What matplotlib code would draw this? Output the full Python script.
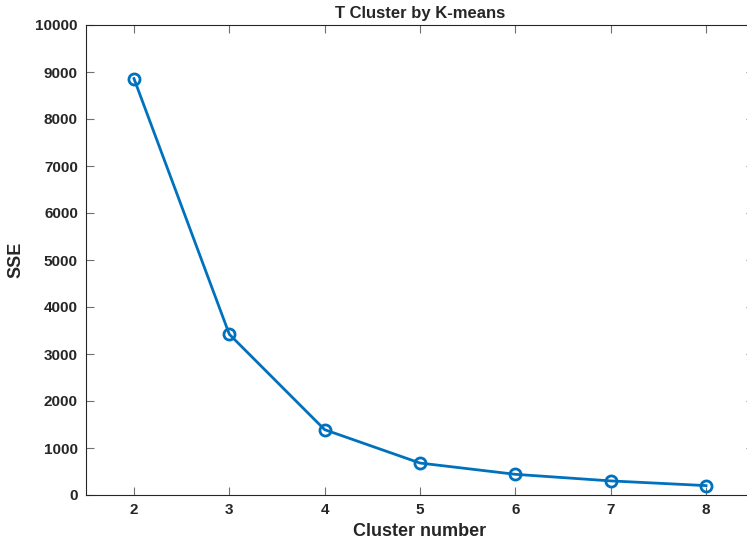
import matplotlib
matplotlib.use("Agg")
import matplotlib.pyplot as plt

clusters = [2, 3, 4, 5, 6, 7, 8]
sse = [8860, 3420, 1390, 680, 440, 300, 200]
yticks = [0, 1000, 2000, 3000, 4000, 5000, 6000, 7000, 8000, 9000, 10000]

plt.rcParams['font.family'] = ['Liberation Sans', 'DejaVu Sans']
plt.rcParams['font.weight'] = 'bold'

W, H = 747, 548
fig = plt.figure(figsize=(W / 100, H / 100), dpi=100)
ax = fig.add_axes([86.3 / W, 1 - 495 / H, (753.7 - 86.3) / W, (495 - 25) / H])

ax.plot(clusters, sse, color='#0072BD', linewidth=2, marker='o', markersize=8,
        markerfacecolor='none', markeredgewidth=2)

ax.set_xlim(1.5, 8.5)
ax.set_ylim(0, 10000)
ax.set_xticks(clusters)
ax.set_yticks(yticks)
ax.tick_params(direction='in', top=True, right=True, length=6, width=0.8,
               colors='#262626', labelsize=11, pad=6)
ax.tick_params(axis='both', which='major', color='#707070')
for lab in ax.get_xticklabels() + ax.get_yticklabels():
    lab.set_fontweight('bold')
for s in ax.spines.values():
    s.set_color('#262626')
    s.set_linewidth(0.8)

ax.set_xlabel('Cluster number', fontsize=13, fontweight='bold', color='#262626', labelpad=4)
ax.set_ylabel('SSE', fontsize=13, fontweight='bold', color='#262626', labelpad=8)
ax.set_title('T Cluster by K-means', fontsize=12, fontweight='bold', color='#262626', pad=5)

fig.savefig('out.png', dpi=100)
